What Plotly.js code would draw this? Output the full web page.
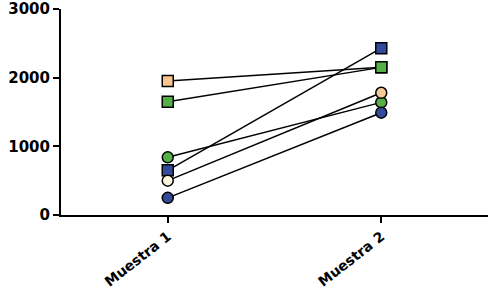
<!DOCTYPE html>
<html>
<head>
<meta charset="utf-8">
<script src="https://cdn.plot.ly/plotly-3.0.1.min.js"></script>
<style>html,body{margin:0;padding:0;background:#fff;}#chart{width:495px;height:290px;}</style>
</head>
<body>
<div id="chart"></div>
<script>
var categories = ['Muestra 1', 'Muestra 2'];
var orangeSquare = [1950, 2150];
var greenSquare = [1650, 2150];
var blueSquare = [650, 2430];
var greenCircle = [840, 1640];
var creamCircle = [500, 1780];
var blueCircle = [250, 1490];
var yTicks = [0, 1000, 2000, 3000];

function series(vals, symbol, color) {
  return {
    x: categories, y: vals, type: 'scatter', mode: 'lines+markers',
    line: {color: '#000', width: 1.5},
    marker: {symbol: symbol, size: 11, color: color, line: {color: '#000', width: 1.5}},
    hoverinfo: 'skip', showlegend: false
  };
}

var data = [
  series(orangeSquare, 'square', '#F9C48E'),
  series(greenSquare, 'square', '#55B048'),
  series(blueSquare, 'square', '#34499C'),
  series(greenCircle, 'circle', '#55B048'),
  series(creamCircle, 'circle', ['#FFF6DE', '#F7CB96']),
  series(blueCircle, 'circle', '#34499C')
];

var fam = 'DejaVu Sans, Liberation Sans, Arial';

var layout = {
  width: 495, height: 290,
  margin: {l: 61, r: 7, t: 9, b: 75, pad: 0},
  paper_bgcolor: '#fff', plot_bgcolor: '#fff',
  xaxis: {
    type: 'category', range: [-0.5, 1.5],
    showline: true, linecolor: '#000', linewidth: 2,
    ticks: 'outside', ticklen: 6, tickwidth: 2, tickcolor: '#000',
    showgrid: false, zeroline: false,
    tickangle: -38, tickfont: {family: fam, size: 14, color: '#000', weight: 'bold'}
  },
  yaxis: {
    range: [0, 3000], autorange: false, tickmode: 'array', tickvals: yTicks, ticktext: ['0', '1000', '2000', '3000'],
    showline: true, linecolor: '#000', linewidth: 2,
    ticks: 'outside', ticklen: 6, tickwidth: 2, tickcolor: '#000',
    showgrid: false, zeroline: false, ticklabeloverflow: 'allow',
    tickfont: {family: fam, size: 15, color: '#000', weight: 'bold'}
  }
};

Plotly.newPlot('chart', data, layout, {displayModeBar: false, staticPlot: true});
</script>
</body>
</html>
